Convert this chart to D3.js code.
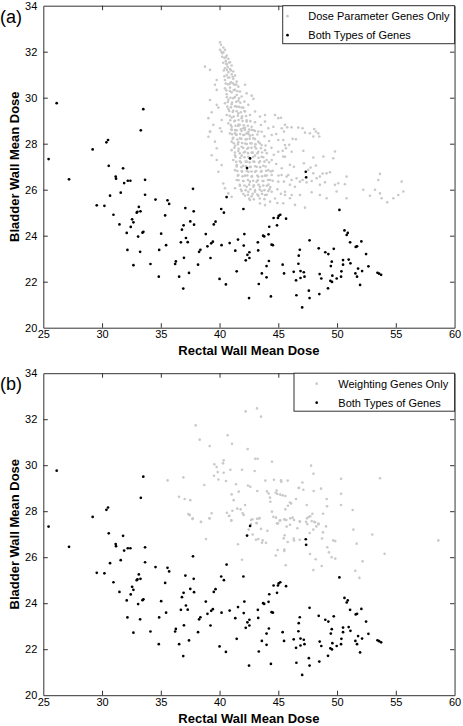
<!DOCTYPE html>
<html><head><meta charset="utf-8">
<script src="https://cdn.jsdelivr.net/npm/d3@7"></script>
<style>html,body{margin:0;padding:0;background:#fff;}svg{display:block;font-family:"Liberation Sans",Arial,sans-serif;}</style>
</head><body>
<svg id="c" width="463" height="726"></svg>
<script>
const xTicks=[25,30,35,40,45,50,55,60];
const yTicks=[20,22,24,26,28,30,32,34];
const xTitle="Rectal Wall Mean Dose";
const yTitle="Bladder Wall Mean Dose";
const legendA=["Dose Parameter Genes Only","Both Types of Genes"];
const legendB=["Weighting Genes Only","Both Types of Genes"];

// Genes selected by both methods (same in both panels)
const bothTypes=[
[26.14,29.76],[33.51,29.5],
[33.3,28.58],[30.51,28.16],[30.37,28.06],[29.2,27.75],[25.45,27.33],[30.57,27.04],[31.79,26.93],[27.19,26.45],[31.16,26.57],[31.19,26.48],[32.19,26.39],[32.41,26.39],[31.88,26.29],[33.66,26.43],[31.59,25.87],[33.66,25.78],[30.68,25.74],[34.55,25.57],[35.57,25.54],[35.71,25.38],[29.55,25.32],[30.2,25.3],[33.13,25.25],[33.01,25.04],[33.27,25.06],[32.95,25.0],[30.97,24.91],[35.37,24.88],[32.56,24.71],[32.67,24.58],[31.48,24.49],[32.44,24.38],[33.52,24.17],[33.44,24.13],[32.1,24.12],[35.03,24.09],[33.07,23.96],[35.45,23.59],[32.16,23.38],[34.86,23.38],[33.24,23.3],[36.28,22.88],[36.22,22.77],[32.67,22.72],[34.12,22.77],[34.83,22.22],[36.56,22.22],
[42.6,27.36],[42.34,26.94],[47.34,26.78],[47.37,26.54],[37.74,26.04],[40.6,25.68],[37.09,25.2],[40.14,25.16],[37.8,25.06],[40.37,25.0],[42.03,25.16],[45.17,24.91],[45.03,24.86],[44.6,24.77],[44.97,24.77],[45.66,24.74],[37.51,24.62],[36.94,24.45],[39.66,24.61],[39.51,24.49],[37.83,24.48],[36.8,24.26],[44.89,24.45],[44.23,24.39],[38.83,24.07],[42.11,24.07],[44.17,24.06],[43.71,24.0],[43.8,23.97],[37.14,23.9],[41.57,23.83],[47.66,23.8],[36.71,23.71],[37.29,23.72],[39.43,23.74],[39.29,23.67],[38.97,23.54],[40.17,23.59],[40.86,23.68],[43.26,23.71],[44.43,23.61],[44.54,23.59],[42.06,23.57],[41.34,23.35],[43.29,23.36],[42.54,23.28],[38.37,23.39],[38.26,23.3],[46.83,23.39],[42.37,23.17],[42.54,23.03],[42.23,22.93],[46.74,23.13],[36.97,23.04],[39.23,23.03],[44.2,22.9],[46.71,22.78],[44.0,22.68],[45.37,22.74],[38.17,22.74],[41.46,22.45],[43.6,22.36],[45.49,22.36],[46.31,22.43],[46.89,22.46],[47.17,22.41],[37.4,22.38],[44.0,22.19],[47.23,22.22],[46.89,22.16],[46.51,22.06],[40.0,22.12],[43.34,21.9],[40.54,21.88],[36.91,21.7],[47.6,21.61],[46.54,21.41],[44.37,21.36],[42.51,21.29],[47.66,21.29],[47.03,20.88],
[50.2,25.12],[50.63,24.23],[50.91,24.12],[50.82,24.03],[51.11,23.71],[52.07,23.75],[48.44,23.45],[49.72,23.43],[51.7,23.54],[51.59,23.51],[49.0,23.28],[49.26,23.2],[52.47,23.2],[49.55,22.87],[49.47,22.68],[50.51,22.94],[50.99,22.96],[50.51,22.74],[51.14,22.8],[52.67,22.67],[51.79,22.57],[52.13,22.46],[50.37,22.45],[51.56,22.36],[48.52,22.33],[48.66,22.14],[49.6,22.26],[50.34,22.22],[51.7,22.22],[49.97,22.14],[49.43,22.04],[49.57,21.99],[53.44,22.39],[53.58,22.35],[53.75,22.3],[51.96,21.86],[49.23,21.71],[48.49,21.46]
];

// Dose parameter genes only (panel a)
const doseOnly=[
[40.04,32.41],[40.12,32.3],[40.32,32.18],[40.04,32.08],[40.46,32.08],[40.24,31.93],[40.61,31.83],[40.41,31.74],[40.75,31.69],[40.52,31.6],[40.89,31.54],[40.61,31.45],[41.03,31.4],[40.69,31.34],[40.46,31.28],[40.89,31.25],[41.17,31.14],[40.75,31.11],[41.03,31.02],[40.61,30.99],[41.32,30.96],[40.83,30.88],[41.17,30.82],[40.46,30.77],[41.46,30.7],[40.97,30.67],[40.69,30.58],[41.26,30.56],[41.6,30.48],[40.89,30.44],[40.46,30.41],[41.32,30.34],[41.74,30.27],[41.03,30.24],[40.61,30.15],[41.46,30.12],[41.88,30.05],[42.17,30.56],[42.31,30.19],[42.73,30.09],[42.88,29.95],[41.17,29.98],[40.75,29.91],[41.6,29.86],[42.11,29.83],[40.46,29.76],[41.03,29.72],[42.45,29.69],[41.46,29.61],[41.88,29.57],[40.75,29.51],[41.17,29.43],[42.17,29.4],[43.02,29.4],[41.6,29.32],[40.61,29.25],[42.59,29.25],[43.44,29.18],[43.87,29.25],[44.72,29.25],[41.03,29.14],[41.88,29.11],[41.32,29.0],[42.31,28.96],[43.02,28.93],[40.75,28.89],[41.6,28.82],[43.87,28.96],[45.0,29.11],[44.58,28.74],[45.29,28.67],[42.02,28.67],[41.03,28.6],[42.73,28.6],[41.32,28.45],[42.31,28.45],[43.3,28.53],
[38.76,31.35],[39.19,31.21],[39.76,30.77],[39.61,30.56],[39.76,30.34],[39.19,29.9],[39.76,29.69],[39.9,29.57],[39.33,29.37],[39.05,29.11],[40.18,29.03],[39.47,28.82],[40.04,28.67],[39.19,28.53],[40.18,28.53],
[41.03,28.74],[41.6,28.77],[42.17,28.69],[42.73,28.74],[41.32,28.59],[41.88,28.55],[42.45,28.52],[43.02,28.55],[40.89,28.45],[41.46,28.4],[42.02,28.38],[42.59,28.35],[41.17,28.26],[41.74,28.23],[42.31,28.2],[42.88,28.23],[43.58,28.52],[44.15,28.67],[44.44,28.38],[45.0,28.16],[45.57,27.94],[45.0,27.65],[45.57,27.43],[46.14,27.65],
[39.19,28.52],[39.05,28.3],[39.61,28.09],[39.76,27.8],[39.33,27.5],[39.76,27.29],[40.18,27.07],[39.9,26.78],[40.32,26.27],[40.46,26.06],[40.75,25.84],
[41.03,28.09],[41.6,28.06],[42.17,28.01],[42.73,28.01],[43.3,28.09],[41.32,27.91],[41.88,27.87],[42.45,27.82],[43.02,27.87],[43.58,27.94],[41.03,27.72],[41.6,27.68],[42.17,27.65],[42.73,27.62],[43.3,27.65],[43.87,27.72],[41.32,27.5],[41.88,27.48],[42.45,27.43],[43.02,27.48],[43.58,27.43],[41.17,27.29],[41.74,27.24],[42.31,27.22],[42.88,27.22],[43.44,27.24],[44.01,27.29],[44.44,27.29],[41.46,27.07],[42.02,27.04],[42.59,27.0],[43.16,27.0],[43.73,27.04],[41.32,26.85],[41.88,26.81],[42.45,26.78],[43.02,26.78],[43.58,26.81],[44.15,26.85],[45.29,26.93],[41.6,26.64],[42.17,26.61],[42.73,26.56],[43.3,26.56],[43.87,26.61],[44.44,26.64],[45.85,26.64],[41.46,26.42],[42.02,26.38],[42.59,26.35],[43.16,26.35],[43.73,26.38],[44.3,26.42],[45.0,26.35],[41.74,26.17],[42.31,26.13],[42.88,26.13],[43.44,26.13],[44.01,26.17],[41.32,26.06],[41.88,25.94],[42.45,25.91],[43.02,25.91],[43.58,25.94],[44.15,25.94],[44.44,25.91],[45.57,25.91],[46.14,25.77],[42.17,25.74],[42.73,25.71],[43.3,25.74],[43.87,25.77],[44.3,25.48],[43.87,25.33],[43.44,25.4],[42.59,25.55],[41.03,25.69],
[45.23,29.13],[45.57,28.82],[45.76,28.71],[46.13,28.71],[46.7,28.7],[47.07,28.67],[47.27,28.48],[47.69,28.45],[48.06,28.64],[48.2,28.53],[48.4,28.45],[48.49,28.31],[47.98,28.31],[45.48,28.53],[46.22,28.21],[46.5,28.19],[45.42,28.16],[45.93,27.95],[45.65,27.8],[45.37,27.69],[47.13,27.69],[47.98,27.4],[48.83,27.44],[49.68,27.37],[49.82,27.66],[45.42,27.44],[45.99,27.08],[46.33,27.0],[47.18,27.15],[47.75,26.96],[48.2,27.05],[47.55,26.86],[47.98,26.71],[48.54,26.57],[48.77,26.7],[49.11,26.71],[49.4,26.76],[45.28,26.64],[45.71,26.57],[46.13,26.42],[46.56,26.5],[46.84,26.35],[47.07,26.42],[45.48,26.35],[45.99,26.21],[46.42,26.13],[47.41,26.32],[47.84,26.38],[48.26,26.5],[48.54,26.21],[48.97,26.32],[49.82,26.21],[50.67,26.24],[50.1,26.28],[50.81,26.57],[53.65,26.69],[53.51,26.42],[52.23,26.0],[52.8,25.74],[53.23,26.0],[53.65,25.84],[53.79,25.63],[54.27,25.45],[54.79,25.63],[55.21,25.77],[55.64,25.92],[55.5,26.35],[50.81,25.63],[49.96,25.92],[48.54,25.77],[47.84,25.89],[46.84,25.77],[45.99,25.63],[45.57,25.77],[46.42,25.34],[47.27,25.22],[45.42,25.41],[49.11,25.63],
[40.15,32.0],[40.33,31.97],[40.22,31.78],[40.53,31.76],[40.31,31.52],[40.57,31.49],[40.82,31.53],[40.36,31.18],[40.63,31.21],[40.97,31.19],[40.41,30.93],[40.72,30.88],[41.12,30.91],[40.52,30.62],[40.86,30.6],[41.14,30.63],[41.42,30.57],[40.57,30.32],[40.87,30.29],[41.21,30.33],[41.52,30.28],[40.62,30.02],[40.93,30.0],[41.31,30.03],[41.66,29.97],[40.71,29.81],[41.06,29.79],[41.42,29.82],[41.77,29.78],[40.66,29.61],[40.97,29.58],[41.31,29.63],[41.67,29.6],[42.02,29.57],[40.82,29.42],[41.12,29.38],[41.46,29.41],[41.82,29.37],[42.12,29.42],[40.86,29.21],[41.21,29.18],[41.56,29.22],[41.92,29.19],[42.26,29.2],[40.91,29.02],[41.26,28.98],[41.62,29.03],[41.96,28.99],[42.31,29.02],[42.62,28.98],[40.96,28.81],[41.36,28.78],[41.71,28.82],[42.06,28.8],[42.41,28.78],[41.01,28.62],[41.46,28.58],[41.81,28.63],[42.16,28.6],[42.52,28.62],[42.92,28.58],[41.06,28.41],[41.41,28.38],[41.76,28.42],[42.11,28.39],[42.46,28.42],[42.81,28.38],[43.22,28.4],[41.12,28.22],[41.52,28.18],[41.86,28.21],[42.22,28.18],[42.56,28.22],[43.02,28.2],[41.21,28.02],[41.56,27.98],[41.92,28.03],[42.32,27.99],[42.62,28.02],[43.06,27.98],[43.42,28.02],[41.26,27.82],[41.62,27.78],[42.02,27.81],[42.36,27.78],[42.72,27.82],[43.12,27.79],[43.52,27.8],[41.31,27.62],[41.72,27.58],[42.06,27.62],[42.42,27.59],[42.82,27.61],[43.22,27.58],[43.62,27.62],[44.02,27.59],[41.36,27.42],[41.76,27.38],[42.12,27.41],[42.52,27.38],[42.86,27.42],[43.32,27.39],[43.72,27.41],[41.42,27.21],[41.82,27.18],[42.22,27.22],[42.56,27.19],[42.96,27.21],[43.36,27.18],[43.82,27.22],[44.22,27.19],[41.46,27.01],[41.86,26.98],[42.26,27.02],[42.66,26.99],[43.02,27.02],[43.46,26.98],[43.92,27.01],[41.52,26.81],[41.92,26.78],[42.32,26.82],[42.72,26.79],[43.12,26.81],[43.52,26.78],[43.96,26.82],[44.36,26.79],[41.56,26.61],[41.96,26.58],[42.36,26.62],[42.76,26.59],[43.22,26.61],[43.62,26.58],[44.02,26.62],[41.62,26.41],[42.02,26.38],[42.42,26.42],[42.86,26.39],[43.26,26.41],[43.66,26.38],[44.12,26.42],[44.52,26.39],[41.72,26.21],[42.12,26.18],[42.52,26.22],[42.92,26.19],[43.32,26.21],[43.72,26.18],[44.16,26.22],[41.82,26.01],[42.22,25.98],[42.62,26.02],[43.02,25.99],[43.42,26.01],[43.82,25.98],[44.26,26.02],[42.02,25.81],[42.42,25.78],[42.82,25.82],[43.22,25.79],[43.62,25.81],[44.02,25.78],[42.52,25.61],[42.92,25.58],[43.42,25.62],[43.82,25.59],
[43.52,28.81],[44.22,28.12],[43.92,27.92],[44.62,27.52],[44.82,27.12],[44.52,26.82],[45.02,26.62],[44.92,26.02],[45.22,25.82],[44.72,25.62],[44.82,28.42],[43.82,28.32],[44.42,27.82],[44.32,26.12],[44.92,25.42]
];

// Weighting genes only (panel b)
const weightOnly=[
[42.22,32.34],[43.19,32.47],[43.53,32.11],[37.97,31.73],[38.31,31.11],[40.69,31.3],[41.06,30.93],[39.16,30.83],[42.39,30.7],[43.04,30.28],[43.24,30.28],[44.46,30.15],[40.35,30.21],[40.29,30.08],[39.56,30.04],[39.75,29.92],[40.92,29.8],[41.91,29.8],[42.99,29.75],[39.84,29.7],[40.35,29.67],[39.53,29.54],[39.9,29.38],[40.55,29.31],[35.58,29.34],[36.92,29.47],[38.7,29.14],[41.4,29.17],[42.42,29.12],[42.62,29.06],[43.9,29.33],[44.63,29.37],[45.23,29.34],[45.26,29.28],[45.8,29.33],[46.73,29.01],[43.21,28.88],[41.63,28.85],[44.04,28.86],[44.18,28.77],[44.86,28.9],[44.78,28.8],[44.92,28.75],[45.17,28.72],[45.37,28.69],[45.6,28.66],[41.03,28.73],[36.55,28.63],[37.03,28.53],[37.51,28.48],[41.2,28.48],[44.29,28.59],[44.32,28.41],[46.51,28.53],[45.99,28.38],[42.17,28.27],[45.82,28.24],[41.51,28.11],[41.8,28.08],[41.09,28.02],[41.97,27.91],[44.46,27.98],[45.6,28.08],[39.33,27.91],[40.63,27.93],[37.34,27.88],[37.46,27.83],[37.71,27.66],[38.42,27.53],[39.16,27.69],[40.83,27.8],[41.0,27.6],[42.68,27.62],[43.19,27.67],[43.41,27.7],[44.58,27.76],[45.12,27.59],[45.57,27.63],[46.02,27.69],[42.68,27.44],[43.16,27.48],[44.89,27.47],
[47.79,29.98],[47.99,29.63],[47.05,29.25],[46.77,29.02],[47.13,28.93],[48.01,28.88],[48.64,28.98],[50.34,29.41],[53.66,29.43],[50.34,28.76],[49.12,28.53],[47.42,28.27],[49.15,28.21],[50.34,28.27],[51.33,28.05],[46.09,28.34],[47.9,27.89],[47.59,27.75],[48.81,27.89],[46.85,27.54],[47.36,27.54],[48.07,27.54],[48.41,27.46],[46.34,27.62],
[37.43,27.84],[37.71,27.69],[38.42,27.54],[39.13,27.69],[40.8,27.79],[41.0,27.6],[42.05,27.84],[42.79,27.65],[43.16,27.49],[43.36,27.68],[42.48,27.2],[42.82,26.99],[43.53,27.23],[44.07,27.15],[43.1,26.76],[43.3,26.79],[43.67,26.73],[43.95,26.63],[43.61,26.63],[44.8,27.72],[45.17,27.6],[45.51,27.65],[45.68,27.62],[44.97,27.47],[45.71,27.33],[45.99,27.41],[46.22,27.72],[46.82,27.56],[46.62,27.26],[45.54,26.95],[45.46,26.82],[45.8,26.66],[46.31,26.81],[46.34,26.73],[46.82,26.76],[47.44,27.69],[47.72,27.78],[47.84,27.57],[48.12,27.52],[48.43,27.43],[47.47,27.44],[49.06,27.34],[48.24,27.34],[47.67,27.05],[47.98,27.2],[48.8,27.08],[48.72,26.81],[49.68,26.73],[49.85,26.7],[49.17,26.43],[44.95,26.31],[45.51,26.33],[45.51,26.27],[44.78,26.07],[47.7,26.14],[49.31,26.21],[49.54,26.0],[49.85,25.94],[48.18,25.91],[48.69,25.62],[47.98,25.44],[45.63,25.65],[41.91,25.89],[41.57,26.56],[38.85,26.79],[51.39,27.2],[51.67,26.59],[52.18,25.82],[51.55,25.41],[51.9,25.1],[53.0,26.99],[54.05,26.15],[58.62,26.73]
];

const svg=d3.select("#c");
const x0=43.3,x1=454.55;
const xS=d3.scaleLinear().domain([25,60]).range([x0,x1]);

const panels=[
 {tag:"(a)",top:5.7,bottom:327.7,gray:doseOnly,legend:legendA,lgLeft:282.7,lgMarker:287.5,lgText:308.3},
 {tag:"(b)",top:373.2,bottom:695.2,gray:weightOnly,legend:legendB,lgLeft:294,lgMarker:316.7,lgText:338.3}
];

const axisColor="#333";
panels.forEach(p=>{
  const yS=d3.scaleLinear().domain([20,34]).range([p.bottom,p.top]);
  const g=svg.append("g");
  g.append("g").selectAll("circle").data(p.gray).join("circle")
    .attr("cx",d=>xS(d[0])).attr("cy",d=>yS(d[1])).attr("r",1.3).attr("fill","#c9c9c9");
  g.append("g").selectAll("circle").data(bothTypes).join("circle")
    .attr("cx",d=>xS(d[0])).attr("cy",d=>yS(d[1])).attr("r",1.35).attr("fill","#000");
  const tl=4.5;
  const mk=(gen,tr)=>{const a=g.append("g").attr("transform",tr).call(gen);
     a.select(".domain").attr("stroke",axisColor);
     a.selectAll(".tick line").attr("stroke",axisColor);
     a.selectAll("text").attr("fill","#000").attr("font-size","11px").attr("font-family","'Liberation Sans',Arial,sans-serif");
     return a;};
  const bx=mk(d3.axisBottom(xS).tickValues(xTicks).tickSize(-tl).tickSizeOuter(0).tickPadding(3),`translate(0,${p.bottom})`);
  bx.selectAll("text").attr("dy","0.71em");
  const tx=mk(d3.axisTop(xS).tickValues(xTicks).tickSize(-tl).tickSizeOuter(0).tickFormat(""),`translate(0,${p.top})`);
  const ly=mk(d3.axisLeft(yS).tickValues(yTicks).tickSize(-tl).tickSizeOuter(0).tickPadding(6),`translate(${x0},0)`);
  const ry=mk(d3.axisRight(yS).tickValues(yTicks).tickSize(-tl).tickSizeOuter(0).tickFormat(""),`translate(${x1},0)`);
  [bx,tx].forEach(a=>a.selectAll(".tick").filter(d=>d===25||d===60).select("line").remove());
  [ly,ry].forEach(a=>a.selectAll(".tick").filter(d=>d===20||d===34).select("line").remove());
  g.append("text").attr("x",(x0+x1)/2).attr("y",p.bottom+27.5).attr("text-anchor","middle")
    .attr("font-size","13px").attr("font-weight","bold").text(xTitle);
  g.append("text").attr("transform",`translate(19,${(p.top+p.bottom)/2}) rotate(-90)`).attr("text-anchor","middle")
    .attr("font-size","13px").attr("font-weight","bold").text(yTitle);
  g.append("text").attr("x",0).attr("y",p.top+17).attr("font-size","18px").text(p.tag);
  const lg=g.append("g");
  lg.append("rect").attr("x",p.lgLeft).attr("y",p.top).attr("width",x1-p.lgLeft).attr("height",38)
    .attr("fill","#fff").attr("stroke",axisColor).attr("stroke-width",1);
  const rows=[{c:"#c9c9c9",t:p.legend[0]},{c:"#000",t:p.legend[1]}];
  rows.forEach((r,i)=>{
    const yy=p.top+10.5+i*19;
    lg.append("circle").attr("cx",p.lgMarker).attr("cy",yy).attr("r",1.35).attr("fill",r.c);
    lg.append("text").attr("x",p.lgText).attr("y",yy).attr("dy","0.36em").attr("font-size","11px").text(r.t);
  });
});
</script>
</body></html>
